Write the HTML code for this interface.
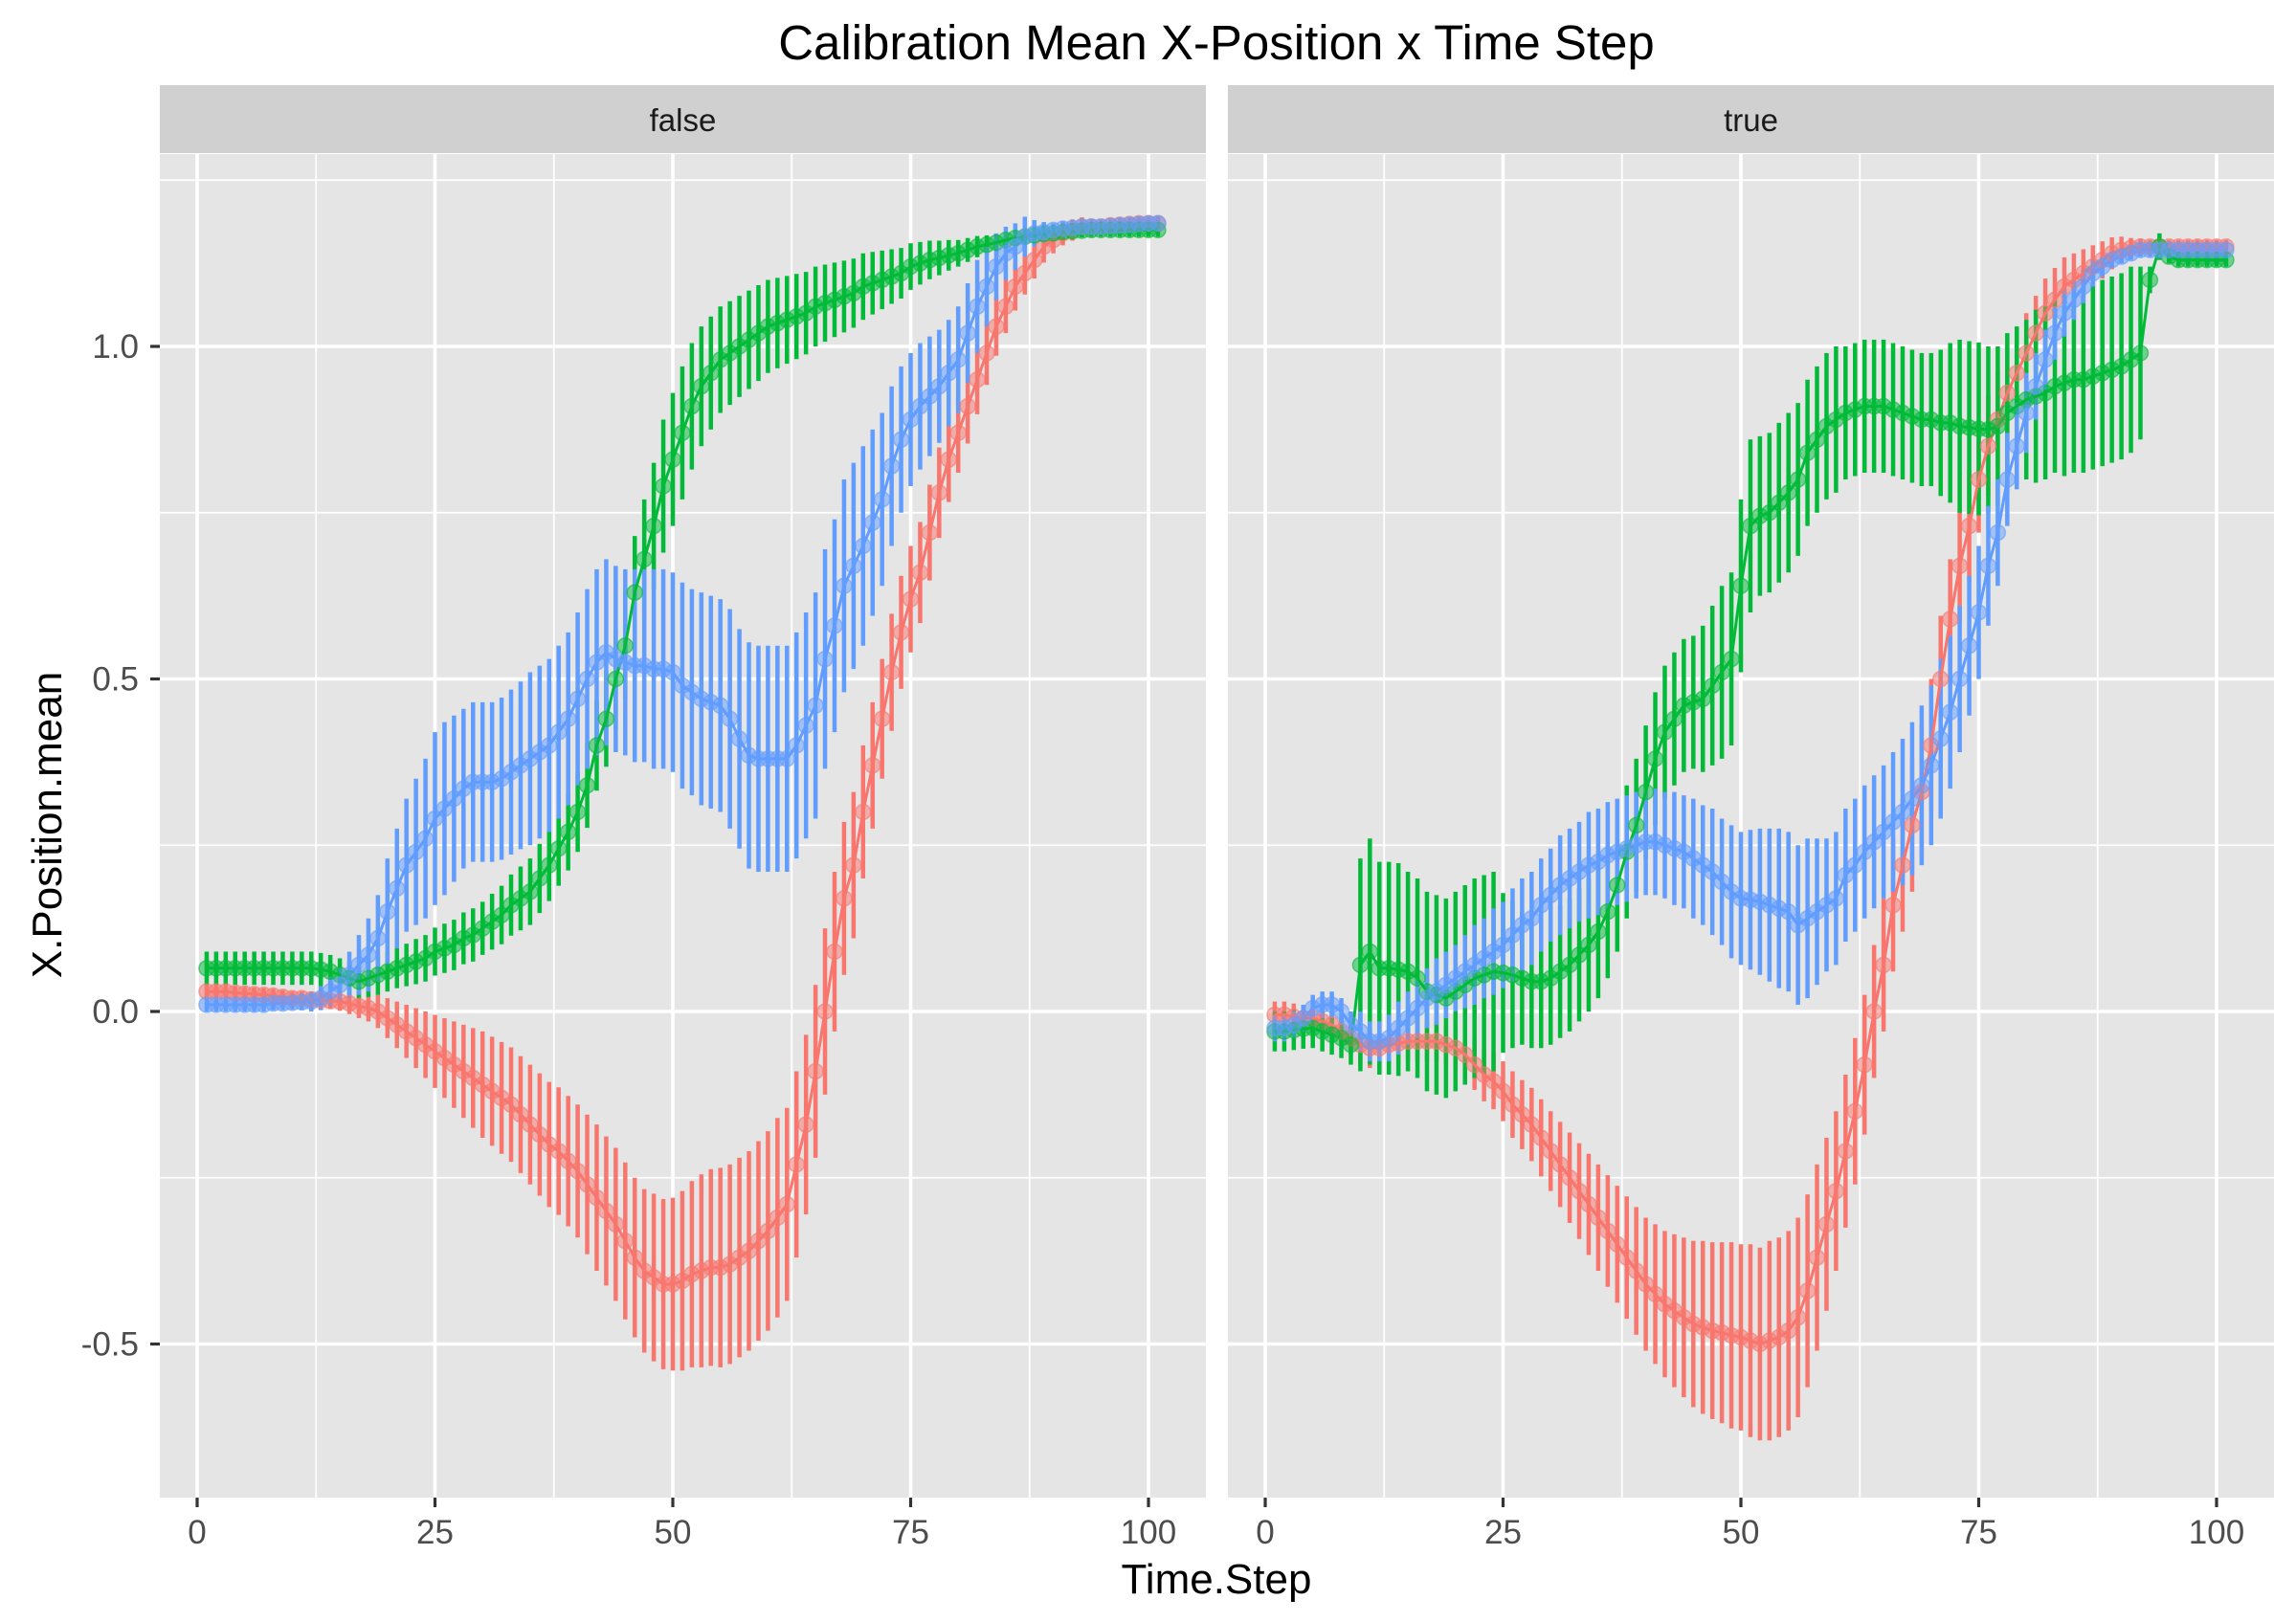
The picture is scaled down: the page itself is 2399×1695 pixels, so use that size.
<!DOCTYPE html>
<html><head><meta charset="utf-8">
<style>
body{margin:0;background:#fff;}
svg{display:block;font-family:"Liberation Sans",Arial,sans-serif;}
</style></head>
<body>
<svg id="chart" width="2399" height="1695" viewBox="0 0 2399 1695" xmlns="http://www.w3.org/2000/svg">
<rect width="2399" height="1695" fill="#fff"/>
<text x="1271" y="62" font-size="51" text-anchor="middle" fill="#000">Calibration Mean X-Position x Time Step</text>
<text x="1271" y="1665" font-size="44" text-anchor="middle" fill="#000">Time.Step</text>
<text transform="translate(64,862) rotate(-90)" font-size="44" text-anchor="middle" fill="#000">X.Position.mean</text>
<g id="plots"></g>
</svg>
<script>
const panelNames = ["false","true"];
const xTicks = [0,25,50,75,100];
const xTickLabels = ["0","25","50","75","100"];
const yTicks = [-0.5,0,0.5,1.0];
const yTickLabels = ["-0.5","0.0","0.5","1.0"];
const seriesColors = ["#F8766D","#00BA38","#619CFF"];

const falseRed = [.03,.03,.03,.028,.027,.026,.025,.024,.022,.02,
.02,.018,.017,.016,.015,.012,.008,.005,0,-.01,
-.02,-.03,-.04,-.05,-.06,-.07,-.08,-.09,-.10,-.11,
-.12,-.13,-.14,-.155,-.17,-.185,-.20,-.21,-.225,-.24,
-.26,-.28,-.30,-.32,-.345,-.37,-.39,-.40,-.41,-.41,
-.405,-.395,-.39,-.385,-.385,-.38,-.37,-.36,-.345,-.33,
-.31,-.29,-.23,-.17,-.09,0,.09,.17,.22,.30,
.37,.44,.51,.57,.62,.66,.72,.78,.83,.87,
.91,.95,.99,1.03,1.06,1.09,1.11,1.13,1.15,1.16,
1.17,1.175,1.18,1.18,1.18,1.182,1.183,1.184,1.185,1.185,1.185];
const falseRedErr = [.01,.01,.01,.01,.01,.01,.01,.01,.01,.01,
.01,.01,.01,.012,.014,.016,.018,.02,.025,.03,
.035,.04,.045,.05,.055,.06,.065,.07,.075,.08,
.082,.084,.086,.088,.09,.092,.094,.096,.098,.10,
.105,.11,.112,.115,.118,.12,.123,.126,.128,.13,
.135,.14,.145,.148,.15,.15,.15,.15,.15,.15,
.15,.145,.14,.135,.13,.125,.12,.115,.11,.10,
.095,.09,.088,.085,.08,.076,.072,.068,.064,.06,
.056,.052,.048,.044,.04,.036,.032,.028,.024,.02,
.018,.016,.014,.012,.01,.01,.01,.01,.01,.01,.01];
const falseGreen = [.065,.065,.065,.065,.065,.065,.065,.065,.065,.065,
.065,.065,.063,.06,.055,.05,.045,.05,.055,.06,
.065,.07,.075,.08,.09,.095,.10,.11,.115,.125,
.135,.145,.16,.17,.18,.20,.22,.245,.27,.30,
.34,.40,.44,.50,.55,.63,.68,.73,.79,.83,
.87,.91,.94,.96,.98,.99,1.0,1.01,1.02,1.03,
1.035,1.04,1.045,1.05,1.06,1.065,1.07,1.075,1.08,1.09,
1.095,1.10,1.105,1.11,1.12,1.125,1.13,1.133,1.137,1.14,
1.145,1.15,1.153,1.156,1.16,1.163,1.165,1.167,1.169,1.17,
1.172,1.173,1.174,1.175,1.175,1.175,1.175,1.175,1.175,1.175,1.175];
const falseGreenErr = [.025,.025,.025,.025,.025,.025,.025,.025,.025,.025,
.025,.025,.025,.025,.025,.025,.025,.028,.03,.03,
.03,.032,.034,.035,.036,.037,.038,.039,.04,.04,
.042,.044,.046,.048,.05,.052,.054,.056,.058,.06,
.064,.068,.072,.076,.08,.085,.09,.095,.1,.1,
.1,.095,.09,.085,.08,.078,.076,.074,.072,.07,
.068,.066,.064,.062,.06,.058,.056,.054,.052,.05,
.047,.044,.041,.038,.035,.032,.029,.026,.023,.02,
.018,.016,.014,.012,.01,.01,.01,.01,.01,.01,
.01,.01,.01,.01,.01,.01,.01,.01,.01,.01,.01];
const falseBlue = [.01,.01,.01,.01,.01,.01,.01,.012,.012,.013,
.014,.015,.02,.03,.04,.055,.07,.085,.11,.15,
.185,.22,.24,.26,.29,.305,.32,.335,.345,.345,
.345,.35,.36,.37,.38,.39,.40,.42,.44,.47,
.50,.525,.54,.53,.525,.52,.52,.515,.515,.51,
.49,.48,.47,.465,.46,.44,.41,.385,.38,.38,
.38,.38,.40,.43,.46,.53,.58,.64,.67,.70,
.735,.77,.82,.86,.89,.91,.925,.94,.96,.98,
1.02,1.06,1.09,1.12,1.14,1.15,1.165,1.17,1.172,1.175,
1.177,1.178,1.18,1.18,1.18,1.181,1.182,1.183,1.184,1.185,1.185];
const falseBlueErr = [.01,.01,.01,.01,.01,.01,.01,.01,.01,.01,
.012,.015,.018,.022,.026,.035,.045,.055,.065,.08,
.09,.10,.11,.12,.13,.13,.125,.12,.12,.12,
.12,.122,.124,.126,.13,.13,.13,.13,.13,.13,
.135,.14,.14,.14,.14,.145,.145,.15,.15,.15,
.155,.155,.16,.16,.16,.165,.165,.17,.17,.17,
.17,.17,.17,.17,.17,.165,.16,.16,.155,.15,
.14,.13,.12,.11,.1,.095,.09,.085,.08,.08,
.075,.07,.06,.05,.04,.035,.03,.02,.015,.01,
.01,.01,.01,.01,.01,.01,.01,.01,.01,.01,.01];

const trueRed = [-.005,-.005,-.008,-.01,-.01,-.015,-.02,-.03,-.04,-.05,
-.055,-.055,-.05,-.048,-.045,-.045,-.045,-.045,-.05,-.055,
-.065,-.08,-.095,-.105,-.12,-.14,-.155,-.17,-.19,-.21,
-.23,-.25,-.27,-.29,-.31,-.33,-.35,-.37,-.39,-.41,
-.425,-.44,-.45,-.46,-.47,-.475,-.48,-.483,-.487,-.49,
-.495,-.50,-.495,-.49,-.48,-.46,-.42,-.37,-.32,-.27,
-.21,-.15,-.08,0,.07,.16,.22,.28,.33,.40,
.50,.59,.67,.73,.80,.85,.89,.93,.96,.99,
1.02,1.05,1.07,1.09,1.10,1.11,1.12,1.13,1.14,1.145,
1.148,1.15,1.15,1.15,1.15,1.15,1.15,1.15,1.15,1.15,1.15];
const trueRedErr = [.02,.02,.02,.02,.02,.02,.02,.02,.025,.03,
.03,.03,.03,.03,.03,.03,.03,.03,.03,.03,
.035,.038,.04,.042,.045,.05,.052,.055,.058,.06,
.064,.068,.072,.076,.08,.084,.088,.092,.096,.10,
.105,.11,.115,.12,.125,.13,.133,.136,.14,.14,
.145,.145,.15,.15,.15,.15,.145,.14,.13,.12,
.115,.11,.105,.1,.1,.1,.1,.1,.1,.1,
.095,.09,.088,.085,.08,.076,.072,.068,.064,.06,
.056,.052,.048,.044,.04,.036,.032,.028,.024,.02,
.015,.012,.01,.01,.01,.01,.01,.01,.01,.01,.01];
const trueGreen = [-.03,-.03,-.028,-.026,-.025,-.03,-.035,-.04,-.05,.07,
.09,.065,.065,.063,.06,.05,.03,.025,.02,.03,
.04,.05,.055,.06,.058,.055,.05,.045,.045,.05,
.06,.07,.085,.10,.12,.15,.19,.24,.28,.33,
.38,.42,.44,.46,.465,.47,.49,.51,.53,.64,
.73,.745,.75,.765,.78,.80,.84,.86,.88,.89,
.90,.905,.91,.91,.91,.905,.90,.895,.89,.89,
.885,.885,.88,.878,.876,.875,.88,.90,.91,.92,
.925,.93,.94,.945,.95,.95,.955,.96,.965,.97,
.98,.99,1.10,1.15,1.135,1.13,1.13,1.13,1.13,1.13,1.13];
const trueGreenErr = [.03,.03,.03,.03,.03,.03,.03,.03,.03,.16,
.17,.16,.16,.16,.15,.15,.15,.15,.15,.15,
.15,.15,.15,.15,.12,.11,.1,.1,.1,.1,
.1,.1,.1,.1,.1,.1,.1,.1,.1,.1,
.1,.1,.1,.1,.1,.11,.12,.13,.13,.13,
.13,.12,.12,.12,.12,.115,.11,.11,.11,.11,
.1,.1,.1,.1,.1,.1,.1,.1,.1,.1,
.11,.12,.13,.13,.13,.125,.12,.12,.12,.12,
.13,.13,.13,.14,.14,.14,.14,.14,.14,.14,
.14,.13,.02,.02,.01,.01,.01,.01,.01,.01,.01];
const trueBlue = [-.025,-.025,-.02,-.01,.005,.01,.01,0,-.02,-.03,
-.045,-.045,-.04,-.025,-.01,.005,.02,.03,.04,.05,
.06,.07,.08,.09,.10,.115,.13,.14,.16,.175,
.19,.20,.21,.22,.225,.235,.24,.245,.25,.255,
.255,.25,.245,.24,.23,.22,.21,.195,.18,.17,
.168,.165,.16,.155,.15,.13,.14,.15,.16,.17,
.205,.22,.24,.255,.27,.285,.30,.32,.34,.37,
.41,.45,.50,.55,.60,.67,.72,.80,.85,.90,
.94,.98,1.02,1.05,1.07,1.09,1.11,1.12,1.13,1.135,
1.14,1.145,1.145,1.145,1.145,1.145,1.145,1.145,1.145,1.145,1.145];
const trueBlueErr = [.02,.02,.02,.02,.02,.02,.02,.02,.02,.03,
.03,.03,.035,.04,.04,.045,.045,.05,.05,.05,
.055,.06,.06,.065,.065,.07,.07,.07,.07,.07,
.075,.075,.075,.08,.08,.08,.08,.08,.08,.08,
.08,.08,.085,.085,.09,.09,.095,.095,.1,.1,
.105,.11,.115,.12,.12,.12,.12,.11,.1,.1,
.1,.1,.1,.1,.1,.105,.11,.115,.12,.12,
.12,.115,.11,.105,.1,.09,.08,.07,.065,.06,
.05,.045,.04,.035,.03,.025,.02,.015,.01,.01,
.01,.01,.01,.01,.01,.01,.01,.01,.01,.01,.01];

const panelSeries = [
  [[falseRed,falseRedErr],[falseGreen,falseGreenErr],[falseBlue,falseBlueErr]],
  [[trueRed,trueRedErr],[trueGreen,trueGreenErr],[trueBlue,trueBlueErr]]
];

const NS = "http://www.w3.org/2000/svg";
const root = document.getElementById("plots");
function mk(tag, attrs, parent){
  const e = document.createElementNS(NS, tag);
  for (const k in attrs) e.setAttribute(k, attrs[k]);
  parent.appendChild(e);
  return e;
}
const panelLeft = [167, 1283];
const panelW = 1093, panelTop = 161, panelBottom = 1565;
const stripTop = 89, stripBottom = 160;
const seriesNames = ['red','green','blue'];
function yScale(v){ return 1057 - 695 * v; }

panelNames.forEach((pn, pi) => {
  const L = panelLeft[pi];
  const xScale = t => L + 39 + 9.94 * t;
  const g = mk("g", {}, root);
  
  
  const bg = mk("rect", {x:L, y:panelTop, width:panelW, height:panelBottom-panelTop, fill:"#E5E5E5"}, g);
  
  
  const strip = mk("rect", {x:L, y:stripTop, width:panelW, height:stripBottom-stripTop, fill:"#D0D0D0"}, g);
  
  
  const st = mk("text", {x:L+panelW/2, y:137, "font-size":33, "text-anchor":"middle", fill:"#1A1A1A"}, g);
  st.textContent = pn;
  
  
  for (let k = 0; k < xTicks.length - 1; k++) {
    const xm = xScale((xTicks[k] + xTicks[k+1]) / 2);
    const ln = mk("line", {x1:xm, x2:xm, y1:panelTop, y2:panelBottom, stroke:"#fff", "stroke-width":1.8}, g);
    
    
  }
  const yMinor = [-0.75,-0.25,0.25,0.75,1.25];
  yMinor.forEach(v => {
    const ln = mk("line", {x1:L, x2:L+panelW, y1:yScale(v), y2:yScale(v), stroke:"#fff", "stroke-width":1.8}, g);
    
    
  });
  xTicks.forEach((t, i) => {
    const x = xScale(t);
    const ln = mk("line", {x1:x, x2:x, y1:panelTop, y2:panelBottom, stroke:"#fff", "stroke-width":3.6}, g);
    
    
    const tk = mk("line", {x1:x, x2:x, y1:panelBottom, y2:panelBottom+10, stroke:"#333", "stroke-width":3.2}, g);
    
    
    const tl = mk("text", {x:x, y:1613, "font-size":35, "text-anchor":"middle", fill:"#4D4D4D"}, g);
    tl.textContent = xTickLabels[i];
    
    
  });
  yTicks.forEach((v, i) => {
    const y = yScale(v);
    const ln = mk("line", {x1:L, x2:L+panelW, y1:y, y2:y, stroke:"#fff", "stroke-width":3.6}, g);
    
    
    if (pi === 0) {
      const tk = mk("line", {x1:L-10, x2:L, y1:y, y2:y, stroke:"#333", "stroke-width":3.2}, g);
      
      
      const tl = mk("text", {x:L-22, y:y+12, "font-size":35, "text-anchor":"end", fill:"#4D4D4D"}, g);
      tl.textContent = yTickLabels[i];
      
      
    }
  });
  const barLayer = mk("g", {}, g);
  
  
  const lineLayer = mk("g", {}, g);
  
  
  const pointLayer = mk("g", {}, g);
  
  
  panelSeries[pi].forEach((s, si) => {
    const [means, errs] = s;
    const col = seriesColors[si];
    means.forEach((m, i) => {
      const x = xScale(i + 1);
      const y1 = yScale(m + errs[i]), y2 = yScale(m - errs[i]);
      const eb = mk("line", {x1:x, x2:x, y1:y1, y2:y2, stroke:col, "stroke-width":4.5}, barLayer);
      
      
    });
    const pts = means.map((m, i) => xScale(i + 1).toFixed(1) + "," + yScale(m).toFixed(1)).join(" ");
    const pl = mk("polyline", {points:pts, fill:"none", stroke:col, "stroke-width":3}, lineLayer);
    
    
    means.forEach((m, i) => {
      const c = mk("circle", {cx:xScale(i + 1), cy:yScale(m), r:8, fill:col, "fill-opacity":0.5, stroke:col, "stroke-opacity":0.6, "stroke-width":1.5}, pointLayer);
      
      
    });
  });
});
</script>
</body></html>
